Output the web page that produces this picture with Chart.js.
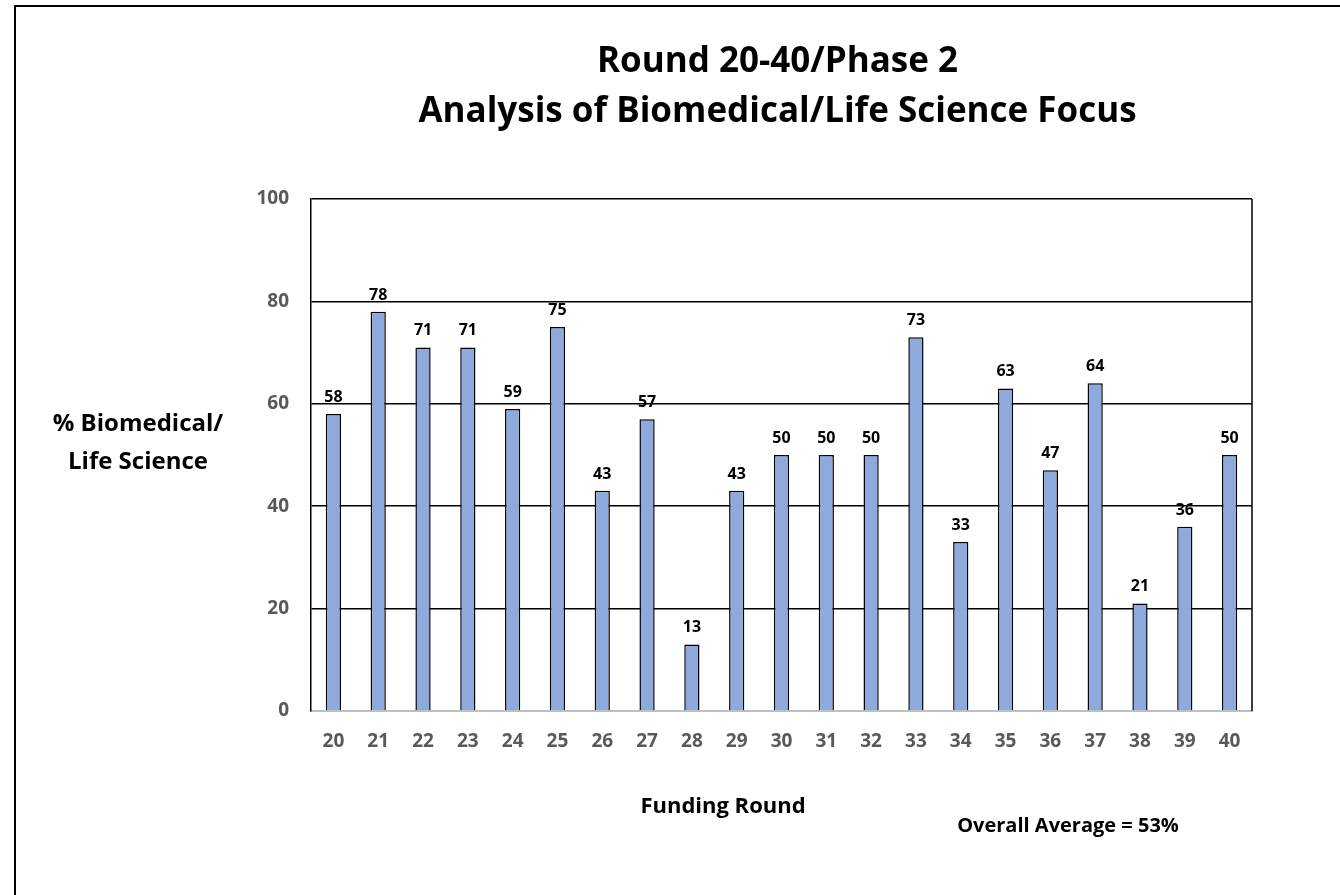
<!DOCTYPE html>
<html>
<head>
<meta charset="utf-8">
<script src="https://cdn.jsdelivr.net/npm/chart.js@4.4.0/dist/chart.umd.min.js"></script>
<style>
  html, body { margin: 0; padding: 0; background: #fff; overflow: hidden; }
  #frame { position: absolute; left: 14px; top: 5px; width: 1400px; height: 950px;
           border-left: 2px solid #000; border-top: 2px solid #000; }
  #wrap { position: absolute; left: 0; top: 0; width: 1340px; height: 895px; }
</style>
</head>
<body>
<div id="frame"></div>
<div id="wrap"><canvas id="chart" width="1340" height="895"></canvas></div>
<script>
var rounds = ['20','21','22','23','24','25','26','27','28','29','30','31','32','33','34','35','36','37','38','39','40'];
var percents = [58, 78, 71, 71, 59, 75, 43, 57, 13, 43, 50, 50, 50, 73, 33, 63, 47, 64, 21, 36, 50];
var titleLines = ['Round 20-40/Phase 2', 'Analysis of Biomedical/Life Science Focus'];
var yTitleLines = ['% Biomedical/', 'Life Science'];
var xTitle = 'Funding Round';
var note = 'Overall Average = 53%';

var font = '"Open Sans", Lato, sans-serif';

// labels above bars + the texts around the plot
var extras = {
  id: 'extras',
  afterDatasetsDraw: function(chart) {
    var ctx = chart.ctx;
    var area = chart.chartArea;
    ctx.save();

    // right edge of plot box
    ctx.strokeStyle = '#000';
    ctx.lineWidth = 1.5;
    ctx.beginPath();
    ctx.moveTo(area.right, area.top);
    ctx.lineTo(area.right, area.bottom);
    ctx.stroke();

    ctx.fillStyle = '#000';
    ctx.textAlign = 'center';
    ctx.textBaseline = 'alphabetic';
    ctx.font = 'bold 16px ' + font;
    var meta = chart.getDatasetMeta(0);
    meta.data.forEach(function(bar, i) {
      ctx.fillText(percents[i], bar.x, bar.y - 12);
    });

    ctx.textBaseline = 'middle';
    var cx = (area.left + area.right) / 2;
    ctx.font = 'bold 35px ' + font;
    ctx.fillText(titleLines[0], cx - 4, 62);
    ctx.fillText(titleLines[1], cx - 4, 112);

    ctx.font = 'bold 24px ' + font;
    ctx.fillText(yTitleLines[0], 138, 424);
    ctx.fillText(yTitleLines[1], 138, 462);

    ctx.font = 'bold 22px ' + font;
    ctx.fillText(xTitle, 723, 807);

    ctx.font = 'bold 20px ' + font;
    ctx.fillText(note, 1068, 826);
    ctx.restore();
  }
};

var chart = new Chart(document.getElementById('chart'), {
  type: 'bar',
  data: {
    labels: rounds,
    datasets: [{
      data: percents,
      backgroundColor: '#8EA9DB',
      borderColor: '#000',
      borderWidth: 1.5,
      barPercentage: 0.34,
      categoryPercentage: 1.0
    }]
  },
  options: {
    responsive: false,
    animation: false,
    layout: { padding: { left: 250, top: 199, right: 88, bottom: 124 } },
    plugins: {
      legend: { display: false },
      tooltip: { enabled: false }
    },
    scales: {
      x: {
        grid: { display: false, drawTicks: false },
        border: { display: true, color: '#bfbfbf', width: 2 },
        ticks: { color: '#595959', font: { family: font, size: 19, weight: 'bold' }, padding: 19, maxRotation: 0 },
        afterFit: function(scale) { scale.height = 60; }
      },
      y: {
        min: 0,
        max: 100,
        ticks: { stepSize: 20, color: '#595959', font: { family: font, size: 19, weight: 'bold' }, padding: 22 },
        grid: {
          drawTicks: false,
          lineWidth: 1.5,
          color: function(c) { return c.tick && c.tick.value === 0 ? 'rgba(0,0,0,0)' : '#000'; }
        },
        border: { display: true, color: '#000', width: 1.5 },
        afterFit: function(scale) { scale.width = 61; }
      }
    }
  },
  plugins: [extras]
});
</script>
</body>
</html>
